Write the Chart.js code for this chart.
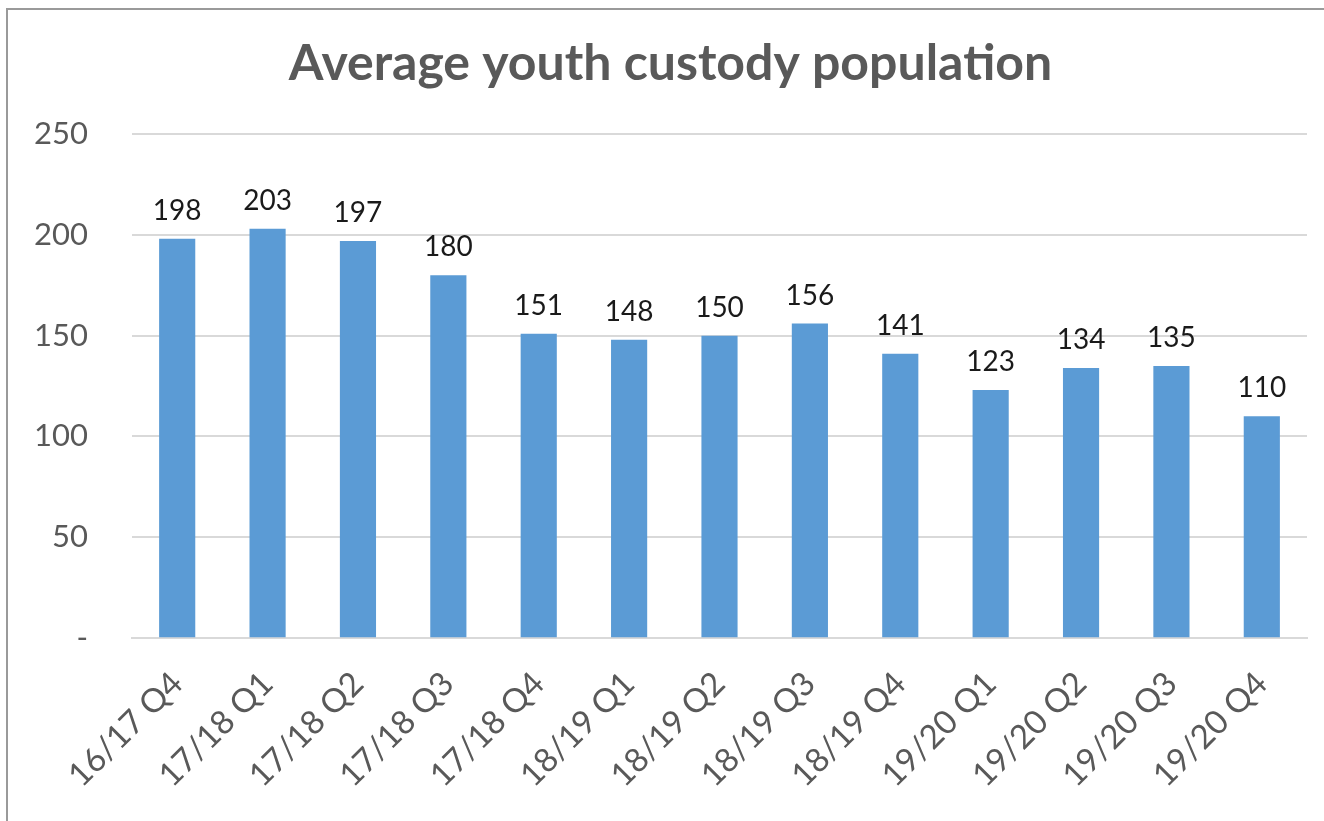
<!DOCTYPE html>
<html>
<head>
<meta charset="utf-8">
<script src="https://cdn.jsdelivr.net/npm/chart.js@4.4.1/dist/chart.umd.min.js"></script>
<style>
  html, body { margin: 0; padding: 0; background: #fff; overflow: hidden; }
  #wrap { position: relative; width: 1324px; height: 821px; }
  #frame { position: absolute; left: 6px; top: 8px; width: 2000px; height: 2000px;
           border-left: 2px solid #9a9a9a; border-top: 2px solid #9a9a9a; pointer-events: none; }
  canvas { position: absolute; left: 0; top: 0; }
</style>
</head>
<body>
<div id="wrap">
  <canvas id="c" width="1324" height="821"></canvas>
  <div id="frame"></div>
</div>
<script>
const categories = ['16/17 Q4','17/18 Q1','17/18 Q2','17/18 Q3','17/18 Q4','18/19 Q1','18/19 Q2','18/19 Q3','18/19 Q4','19/20 Q1','19/20 Q2','19/20 Q3','19/20 Q4'];
const populationValues = [198, 203, 197, 180, 151, 148, 150, 156, 141, 123, 134, 135, 110];
const yTickMin = 0;
const yTickMax = 250;
const yTickStep = 50;
const chartTitle = 'Average youth custody population';

const dataLabelPlugin = {
  id: 'dataLabels',
  afterDatasetsDraw(chart) {
    const ctx = chart.ctx;
    const meta = chart.getDatasetMeta(0);
    ctx.save();
    ctx.font = '28px Lato';
    ctx.fillStyle = '#1a1a1a';
    ctx.textAlign = 'center';
    ctx.textBaseline = 'alphabetic';
    meta.data.forEach((bar, i) => {
      ctx.fillText(String(chart.data.datasets[0].data[i]), bar.x, bar.y - 19);
    });
    ctx.restore();
  }
};

new Chart(document.getElementById('c'), {
  type: 'bar',
  data: {
    labels: categories,
    datasets: [{
      data: populationValues,
      backgroundColor: '#5B9BD5',
      borderWidth: 0,
      barPercentage: 0.4,
      categoryPercentage: 1.0
    }]
  },
  options: {
    responsive: false,
    animation: false,
    devicePixelRatio: 1,
    layout: { padding: { left: 34, right: 17, top: 0, bottom: 8 } },
    plugins: {
      legend: { display: false },
      tooltip: { enabled: false },
      title: {
        display: true,
        text: chartTitle,
        color: '#595959',
        font: { family: 'Lato', size: 50, weight: 'bold' },
        padding: { top: 34, bottom: 40 }
      }
    },
    scales: {
      x: {
        grid: { display: false },
        border: { display: true, color: '#D9D9D9', width: 2 },
        ticks: {
          color: '#595959',
          font: { family: 'Lato', size: 33 },
          maxRotation: 45,
          minRotation: 45,
          padding: 18,
          autoSkip: false
        }
      },
      y: {
        min: yTickMin,
        max: yTickMax,
        afterFit(scale) { scale.width = 98; },
        grid: { color: '#D9D9D9', lineWidth: 2, drawTicks: false },
        border: { display: false },
        ticks: {
          stepSize: yTickStep,
          color: '#595959',
          font: { family: 'Lato', size: 31 },
          padding: 44,
          callback: (v) => v === 0 ? '-' : v
        }
      }
    }
  },
  plugins: [dataLabelPlugin]
});
</script>
</body>
</html>
